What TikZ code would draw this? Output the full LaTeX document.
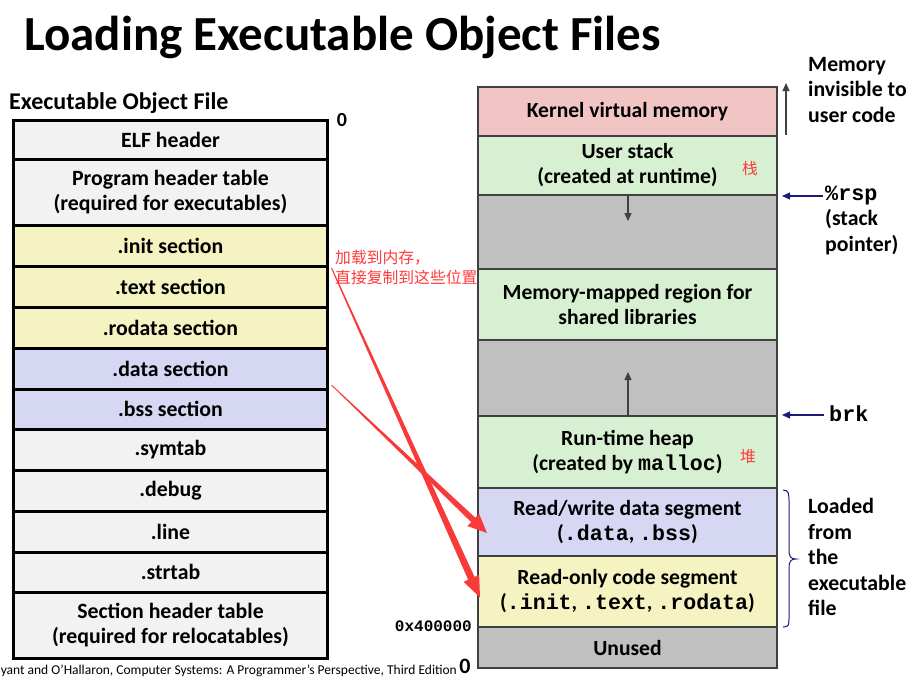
\documentclass[tikz,border=0pt]{standalone}
\usepackage{fontspec}
\setmainfont{Carlito}
\newfontfamily\monof{Liberation Mono}
\newfontfamily\cjkf{Noto Sans CJK SC}
\usetikzlibrary{calc,arrows.meta}
\definecolor{lgray}{HTML}{F2F2F2}
\definecolor{lyel}{HTML}{F5F3C1}
\definecolor{llav}{HTML}{D6D7F3}
\definecolor{rpink}{HTML}{F2C5C5}
\definecolor{rgreen}{HTML}{D7F0D1}
\definecolor{rgray}{HTML}{C0C0C0}
\definecolor{edge}{HTML}{404040}
\definecolor{navy}{HTML}{1C1C78}
\definecolor{redann}{HTML}{FF3B3B}
\definecolor{redarr}{HTML}{F83A3A}
\newcommand\mt[1]{{\monof\bfseries #1}}
\newcommand\taperarrow[5]{% start, tip, start half width, shaft half width, head length
  \coordinate (ta-h) at ($(#2)!#5!(#1)$);
  \fill[redarr] ($(#1)!#3!90:(#2)$) -- ($(ta-h)!#4!90:(#2)$) -- ($(ta-h)!8.5pt!90:(#2)$) -- (#2)
    -- ($(ta-h)!8.5pt!-90:(#2)$) -- ($(ta-h)!#4!-90:(#2)$) -- ($(#1)!#3!-90:(#2)$) -- cycle;
}
\tikzset{
  lbox/.style={draw=black, line width=3pt, minimum width=314pt, anchor=north west,
    outer sep=0pt, inner sep=0pt, align=center,
    font=\fontsize{21.8}{25}\selectfont\bfseries},
  rbox/.style={draw=edge, line width=1.2pt, minimum width=299pt, anchor=north west,
    outer sep=0pt, inner sep=0pt, align=center,
    font=\fontsize{21.6}{25}\selectfont\bfseries},
  lbl/.style={anchor=west, align=left, inner sep=0pt,
    font=\fontsize{21.8}{25.5}\selectfont\bfseries},
  darrow/.style={draw=edge, line width=1.3pt, -{Triangle[length=8pt,width=7pt]}},
  narrow/.style={draw=navy, line width=1.2pt, -{Triangle[length=8pt,width=7pt]}},
  redtxt/.style={text=redann, inner sep=0pt, font=\fontsize{15.8}{20}\selectfont\cjkf}
}
\begin{document}
\begin{tikzpicture}[x=1pt,y=-1pt]
\useasboundingbox (0,0) rectangle (913,677);
\fill[white] (0,0) rectangle (913,677);

% title
\node[anchor=base west, inner sep=0pt, font=\fontsize{49}{56}\selectfont\bfseries] (title) at (24,51) {Loading Executable Object Files};
\node[anchor=base west, inner sep=0pt, font=\fontsize{24}{28}\selectfont\bfseries] (eoftitle) at (9,109) {Executable Object File};

% left column
\node[lbox, fill=lgray, minimum height=39pt] (elf) at (13.5,120) {ELF header};
\node[lbox, fill=lgray, minimum height=66pt] (pht) at (13.5,159) {Program header table\\(required for executables)};
\node[lbox, fill=lyel, minimum height=41pt] (init) at (13.5,225) {.init section};
\node[lbox, fill=lyel, minimum height=41pt] (text) at (13.5,266) {.text section};
\node[lbox, fill=lyel, minimum height=41pt] (rodata) at (13.5,307) {.rodata section};
\node[lbox, fill=llav, minimum height=41pt] (data) at (13.5,348) {.data section};
\node[lbox, fill=llav, minimum height=40pt] (bss) at (13.5,389) {.bss section};
\node[lbox, fill=lgray, minimum height=41pt] (symtab) at (13.5,429) {.symtab};
\node[lbox, fill=lgray, minimum height=41pt] (debug) at (13.5,470) {.debug};
\node[lbox, fill=lgray, minimum height=41pt] (line) at (13.5,511) {.line};
\node[lbox, fill=lgray, minimum height=40pt] (strtab) at (13.5,552) {.strtab};
\node[lbox, fill=lgray, minimum height=66pt] (sht) at (13.5,592) {Section header table\\(required for relocatables)};

\node[inner sep=0pt, font=\fontsize{20}{22}\selectfont\bfseries] (zeroa) at (342,120) {0};

% red annotation text
\node[redtxt, anchor=north west, align=left] (note) at (335,250) {加载到内存，\\直接复制到这些位置};

% right column
\node[rbox, fill=rpink, minimum height=49pt] (kernel) at (478,87) {Kernel virtual memory};
\node[rbox, fill=rgreen, minimum height=59pt] (ustack) at (478,136) {User stack\\(created at runtime)};
\node[rbox, fill=rgray, minimum height=74pt] (gap1) at (478,195) {};
\node[rbox, fill=rgreen, minimum height=71pt] (mmap) at (478,269) {Memory-mapped region for\\shared libraries};
\node[rbox, fill=rgray, minimum height=76pt] (gap2) at (478,340) {};
\node[rbox, fill=rgreen, minimum height=72pt] (heap) at (478,416) {Run-time heap\\(created by \mt{malloc})};
\node[rbox, fill=llav, minimum height=68pt] (rwdata) at (478,488) {Read/write data segment\\(\mt{.data}, \mt{.bss})};
\node[rbox, fill=lyel, minimum height=71pt] (rocode) at (478,556) {Read-only code segment\\(\mt{.init}, \mt{.text}, \mt{.rodata})};
\node[rbox, fill=rgray, minimum height=41pt] (unused) at (478,627) {Unused};

\node[redtxt] (zhan) at (750,168) {栈};
\node[redtxt] (dui) at (748,457) {堆};

\node[anchor=east, inner sep=0pt, font=\fontsize{16}{18}\selectfont\monof\bfseries] (addr) at (472,626) {0x400000};
\node[inner sep=0pt, font=\fontsize{22}{24}\selectfont\bfseries] (zerob) at (465,666) {0};

% inner arrows
\coordinate (ustackend) at ($(ustack.south)+(0.5,26)$);
\draw[darrow] ($(ustack.south)+(0.5,0)$) -- (ustackend);
\coordinate (heapend) at ($(heap.north)+(0.5,-44)$);
\draw[darrow] ($(heap.north)+(0.5,0)$) -- (heapend);

% right labels
\node[lbl] (memlbl) at (808,90) {Memory\\invisible to\\user code};
\coordinate (kbot) at (786,135);
\coordinate (ktop) at (786,83);
\draw[darrow, line width=1.1pt] (kbot) -- (ktop);

\node[lbl] (rsplbl) at (825,220) {\mt{\%rsp}\\(stack\\pointer)};
\coordinate (rspend) at (782,196);
\draw[narrow] (823,196) -- (rspend);

\node[lbl] (brklbl) at (829,414) {\mt{brk}};
\coordinate (brkend) at (782,415);
\draw[narrow] ($(brklbl.west)+(-5,1)$) -- (brkend);

\node[lbl] (loadlbl) at (808,557) {Loaded\\from\\the\\executable\\file};
\draw[navy, line width=1pt] (783,490) .. controls (789,490) and (789,494) .. (789,502)
  -- (789,550) .. controls (789,557) and (791,559) .. (796,559)
  .. controls (791,559) and (789,561) .. (789,568)
  -- (789,617) .. controls (789,625) and (789,627) .. (783,627);

% footer
\node[anchor=base east, inner sep=0pt, font=\fontsize{13.5}{15}\selectfont] (footer) at (457,674) {yant and O’Hallaron, Computer Systems: A Programmer’s Perspective, Third Edition};

% red tapered arrows
\coordinate (a1s) at ($(text.north east)+(4,2)$);
\coordinate (a1t) at ($(rocode.west)+(2,6)$);
\coordinate (a2s) at ($(data.south east)+(4,-4)$);
\coordinate (a2t) at ($(rwdata.west)+(9,11)$);
\taperarrow{a1s}{a1t}{0.5pt}{3.5pt}{21pt}
\taperarrow{a2s}{a2t}{0.4pt}{3pt}{19pt}
\end{tikzpicture}
\end{document}
